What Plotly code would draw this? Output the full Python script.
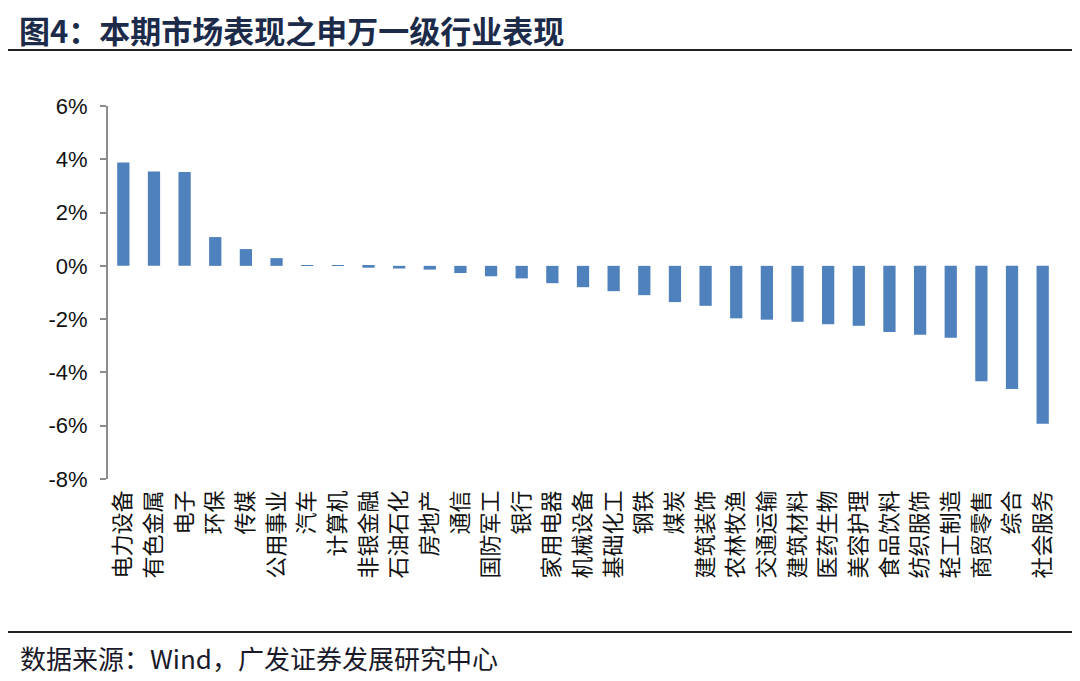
import plotly.graph_objects as go

categories = ["电力设备", "有色金属", "电子", "环保", "传媒", "公用事业", "汽车", "计算机",
              "非银金融", "石油石化", "房地产", "通信", "国防军工", "银行", "家用电器", "机械设备",
              "基础化工", "钢铁", "煤炭", "建筑装饰", "农林牧渔", "交通运输", "建筑材料", "医药生物",
              "美容护理", "食品饮料", "纺织服饰", "轻工制造", "商贸零售", "综合", "社会服务"]
values = [3.88, 3.54, 3.52, 1.08, 0.63, 0.29, 0.01, 0.01,
          -0.07, -0.10, -0.14, -0.27, -0.39, -0.47, -0.65, -0.80,
          -0.95, -1.10, -1.36, -1.50, -1.97, -2.02, -2.10, -2.19,
          -2.25, -2.48, -2.59, -2.70, -4.33, -4.62, -5.93]
y_ticks = [-8, -6, -4, -2, 0, 2, 4, 6]
title_text = "图4：本期市场表现之申万一级行业表现"
source_text = "数据来源：Wind，广发证券发展研究中心"

OFF = 8  # default page body margin
W, H = 1080 - OFF, 681 - OFF
L, R, T, B = 108 - OFF, 1058 - OFF, 106 - OFF, 479 - OFF  # plot area in px

def px_x(x):
    return (x - OFF - L) / (R - L)

def px_y(y):
    return (B - (y - OFF)) / (B - T)

axis_grey = "#8c8c8c"
n = len(categories)

fig = go.Figure()
fig.add_trace(go.Bar(
    x=categories, y=values,
    marker=dict(color="#4f81bd", line=dict(width=0)),
    hoverinfo="x+y",
))

fig.update_layout(
    width=W, height=H,
    margin=dict(l=L, r=W - R, t=T, b=H - B),
    paper_bgcolor="white", plot_bgcolor="white",
    showlegend=False,
    bargap=0.6,
    xaxis=dict(
        type="category",
        categoryorder="array", categoryarray=categories,
        range=[-0.5, n - 0.5],
        showline=False, ticks="", showgrid=False, zeroline=False,
        tickangle=-90,
        tickfont=dict(family="Noto Sans CJK SC", size=22, color="#111111"),
        ticklabelstandoff=6,
    ),
    xaxis2=dict(
        overlaying="x", anchor="free", position=8 / 14,
        range=[-0.5, n - 0.5],
        tickmode="array", tickvals=[i - 0.5 for i in range(n + 1)],
        showticklabels=False,
        ticks="outside", ticklen=6, tickwidth=2, tickcolor=axis_grey,
        showline=True, linecolor=axis_grey, linewidth=2,
        showgrid=False, zeroline=False,
    ),
    yaxis=dict(
        range=[-8, 6],
        tickmode="array", tickvals=y_ticks,
        ticktext=[f"{v}%" for v in y_ticks],
        ticks="outside", ticklen=6, tickwidth=2, tickcolor=axis_grey,
        showline=True, linecolor=axis_grey, linewidth=2,
        showgrid=False, zeroline=False,
        tickfont=dict(family="Liberation Sans, Arial", size=22, color="#111111"),
        ticklabelstandoff=8,
    ),
    shapes=[
        dict(type="line", xref="paper", yref="paper",
             x0=px_x(8), x1=px_x(1080), y0=px_y(50), y1=px_y(50),
             line=dict(color="#222222", width=2)),
        dict(type="line", xref="paper", yref="paper",
             x0=px_x(8), x1=px_x(1080), y0=px_y(632), y1=px_y(632),
             line=dict(color="#222222", width=2)),
    ],
    annotations=[
        dict(text=f"<b>{title_text}</b>", xref="paper", yref="paper",
             x=px_x(17), y=px_y(29), xanchor="left", yanchor="middle",
             showarrow=False,
             font=dict(family="Noto Sans CJK SC", size=31, color="#1c2b4a")),
        dict(text=source_text, xref="paper", yref="paper",
             x=px_x(18), y=px_y(657), xanchor="left", yanchor="middle",
             showarrow=False,
             font=dict(family="Noto Sans CJK SC", size=26, color="#1a1a2a")),
    ],
)

fig.write_html("out.html")
